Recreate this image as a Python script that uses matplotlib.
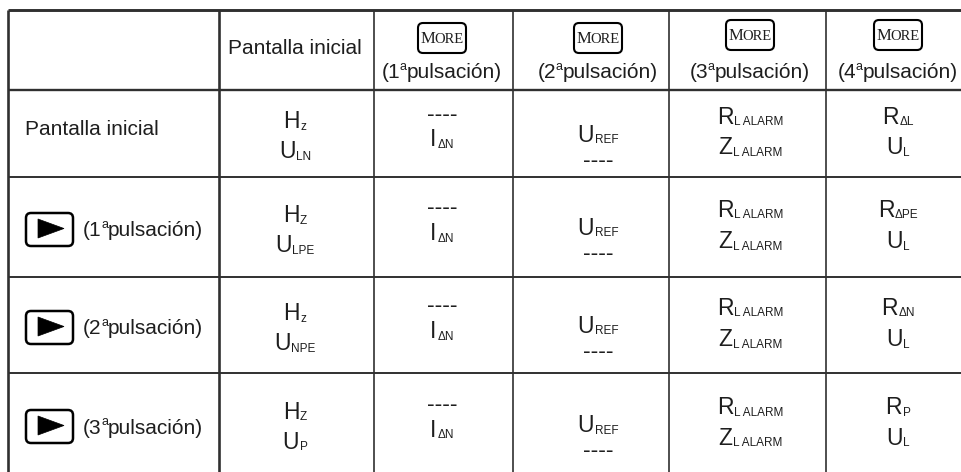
import matplotlib
matplotlib.use("Agg")
import matplotlib.pyplot as plt
from matplotlib.patches import FancyBboxPatch, Polygon

SANS = "Liberation Sans"
SERIF = "Liberation Serif"
INK = "#1e1e1e"
RULE = "#303030"

# --- table content ---
header_labels = ["", "Pantalla inicial", "(1ªpulsación)", "(2ªpulsación)",
                 "(3ªpulsación)", "(4ªpulsación)"]
header_more = [False, False, True, True, True, True]
row_labels = ["Pantalla inicial", "(1ªpulsación)", "(2ªpulsación)", "(3ªpulsación)"]
row_button = [False, True, True, True]

col_pantalla = [("H_z", "U_LN"), ("H_Z", "U_LPE"), ("H_z", "U_NPE"), ("H_Z", "U_P")]
col_puls1 = [("----", "I_ΔN")] * 4
col_puls2 = [("U_REF", "----")] * 4
col_puls3 = [("R_L ALARM", "Z_L ALARM")] * 4
col_puls4 = [("R_ΔL", "U_L"), ("R_ΔPE", "U_L"), ("R_ΔN", "U_L"), ("R_P", "U_L")]
body_cols = [col_pantalla, col_puls1, col_puls2, col_puls3, col_puls4]

# --- layout (pixels) ---
col_edges = [8, 219, 374, 513, 669, 826, 968]
row_edges = [10, 90, 177, 277, 373, 475]
content_x = [295, 442, 598, 750, 898]
line_offsets = [(-13, 17), (-21, 5), (0, 25), (-18, 13), (-18, 13)]
LABEL, MAIN, SUB = 15, 16.5, 8.5

fig = plt.figure(figsize=(9.61, 4.72), dpi=100)
ax = fig.add_axes([0, 0, 1, 1])
ax.set_xlim(0, 961)
ax.set_ylim(472, 0)
ax.axis("off")
renderer = fig.canvas.get_renderer()


def draw_runs(x, y, parts, ha="center"):
    """parts: (text, size, dy, family, gap_before); y is the baseline."""
    items, total = [], 0.0
    for s, size, dy, fam, gap in parts:
        t = ax.text(0, 0, s, fontsize=size, family=fam, color=INK,
                    ha="left", va="baseline")
        w = t.get_window_extent(renderer).width
        items.append((t, w, dy, gap))
        total += w + gap
    x0 = x - total / 2 if ha == "center" else x
    for t, w, dy, gap in items:
        x0 += gap
        t.set_position((x0, y + dy))
        x0 += w


def label_parts(s, size=LABEL):
    # "(1ªpulsación)" -> raised small "a" instead of the ordinal glyph
    head, tail = s.split("ª")
    return [(head, size, 0, SANS, 0), ("a", 9, -8.5, SANS, -0.5),
            (tail, size, 0, SANS, 0)]


def symbol(x, yc, token):
    if "_" in token:
        main, sub = token.split("_", 1)
        parts = [(main, MAIN, 0, SANS, 0), (sub, SUB, 1.5, SANS, 0.5)]
    else:
        parts = [(token, MAIN, 0, SANS, 0)]
    draw_runs(x, yc + 8, parts)


def more_key(xc, yc):
    ax.add_patch(FancyBboxPatch((xc - 24, yc - 15), 48, 30,
                                boxstyle="round,pad=0,rounding_size=5",
                                fc="white", ec="black", lw=1.5))
    draw_runs(xc, yc + 5, [("M", 12, 0, SERIF, 0), ("ORE", 10.5, 0, SERIF, -0.5)])


def arrow_key(x0, yc):
    ax.add_patch(FancyBboxPatch((x0, yc - 14), 47, 33,
                                boxstyle="round,pad=0,rounding_size=5",
                                fc="white", ec="black", lw=1.8))
    ax.add_patch(Polygon([(x0 + 12, yc - 8), (x0 + 12, yc + 11), (x0 + 38, yc + 1.5)],
                         closed=True, fc="black", ec="black", lw=0.5))


# grid
ax.hlines(row_edges[0], col_edges[0], col_edges[-1], color=RULE, lw=2.1)
ax.hlines(row_edges[1], col_edges[0], col_edges[-1], color=RULE, lw=1.7)
ax.hlines(row_edges[2:], col_edges[0], col_edges[-1], color=RULE, lw=1.4)
ax.vlines(col_edges[:2], row_edges[0], row_edges[-1], color=RULE, lw=1.9)
ax.vlines(col_edges[2:], row_edges[0], row_edges[-1], color=RULE, lw=1.2)

# header row
hx = [None] + content_x
for j, (lab, more) in enumerate(zip(header_labels, header_more)):
    if not lab:
        continue
    if more:
        more_key(hx[j], 38 if j < 4 else 35)
        draw_runs(hx[j], 78, label_parts(lab))
    else:
        draw_runs(hx[j], 54.5, [(lab, LABEL, 0, SANS, 0)])

# body rows
for i, (lab, btn) in enumerate(zip(row_labels, row_button)):
    yc = (row_edges[i + 1] + row_edges[i + 2]) / 2
    if btn:
        arrow_key(26, yc)
        draw_runs(83, yc + 9.5, label_parts(lab), ha="left")
    else:
        draw_runs(25, yc + 1.5, [(lab, LABEL, 0, SANS, 0)], ha="left")
    for k, col in enumerate(body_cols):
        top, bottom = col[i]
        dy1, dy2 = line_offsets[k]
        symbol(content_x[k], yc + dy1, top)
        symbol(content_x[k], yc + dy2, bottom)

fig.savefig("out.png", dpi=100)
